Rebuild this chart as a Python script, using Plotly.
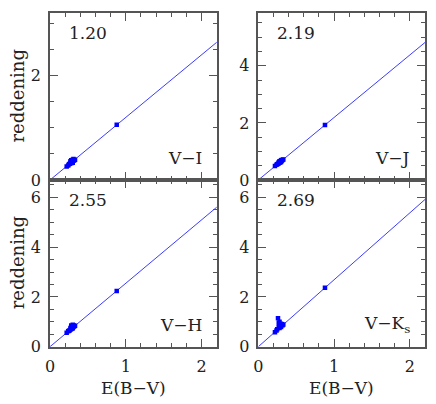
import plotly.graph_objects as go

# ---- data ----
ebv = [0.22, 0.24, 0.25, 0.26, 0.27, 0.27, 0.28, 0.28, 0.28, 0.29, 0.29,
       0.30, 0.30, 0.30, 0.31, 0.31, 0.32, 0.33, 0.88]
red_VI = [0.26, 0.28, 0.30, 0.31, 0.33, 0.36, 0.32, 0.35, 0.38, 0.34, 0.37,
          0.36, 0.39, 0.33, 0.37, 0.40, 0.38, 0.39, 1.06]
red_VJ = [0.49, 0.53, 0.55, 0.57, 0.59, 0.62, 0.60, 0.63, 0.66, 0.62, 0.65,
          0.66, 0.69, 0.63, 0.68, 0.70, 0.70, 0.72, 1.93]
red_VH = [0.56, 0.62, 0.64, 0.66, 0.69, 0.75, 0.71, 0.76, 0.85, 0.73, 0.80,
          0.77, 0.88, 0.74, 0.79, 0.86, 0.82, 0.84, 2.24]
red_VK = [0.58, 0.65, 0.70, 1.14, 0.95, 0.78, 0.75, 0.82, 1.00, 0.80, 0.85,
          0.79, 0.92, 0.83, 0.88, 0.90, 0.86, 0.89, 2.37]
slopes = [1.20, 2.19, 2.55, 2.69]
slope_labels = ["1.20", "2.19", "2.55", "2.69"]
band_labels = ["V\u2212I", "V\u2212J", "V\u2212H", "V\u2212K<sub>s</sub>"]
y_max = [3.2, 5.85, 6.7, 6.7]
y_ticks = [[0, 2], [0, 2, 4], [0, 2, 4, 6], [0, 2, 4, 6]]
x_max = 2.2
x_ticks = [0, 1, 2]
y_title = "reddening"
x_title = "E(B\u2212V)"

series = [red_VI, red_VJ, red_VH, red_VK]

W, H = 436, 404
# panel pixel boxes (x0, x1, ytop, ybottom)
boxes = [(50, 216.8, 13, 180), (258.3, 425, 13, 180),
         (50, 216.8, 180, 346.7), (258.3, 425, 180, 346.7)]

FONT = "DejaVu Serif"
AX = "#555555"
TXT = "#222222"
BLUE = "#0000ff"

fig = go.Figure()
for i in range(4):
    n = "" if i == 0 else str(i + 1)
    x0, x1, yt, yb = boxes[i]
    fig.add_trace(go.Scatter(x=[0, x_max], y=[0, slopes[i] * x_max], mode="lines",
                             line=dict(color="#3b3bff", width=1),
                             xaxis="x" + n, yaxis="y" + n, showlegend=False))
    fig.add_trace(go.Scatter(x=ebv, y=series[i], mode="markers",
                             marker=dict(symbol="square", size=4.5, color=BLUE,
                                         line=dict(width=0)),
                             xaxis="x" + n, yaxis="y" + n, showlegend=False))
    bottom = i >= 2
    fig.layout["xaxis" + n] = dict(
        domain=[x0 / W, x1 / W], range=[0, x_max], anchor="y" + n,
        tickvals=x_ticks, showticklabels=bottom, ticks="inside", ticklen=8,
        tickwidth=1.3, tickcolor=AX, showline=True, linecolor=AX, linewidth=1.5,
        mirror="ticks", showgrid=False, zeroline=False,
        minor=dict(dtick=0.2, ticks="inside", ticklen=4, tickcolor=AX, tickwidth=1.3),
        tickfont=dict(family=FONT, size=16, color=TXT), ticklabelstandoff=4,
        automargin=False)
    fig.layout["yaxis" + n] = dict(
        domain=[1 - yb / H, 1 - yt / H], range=[0, y_max[i]], anchor="x" + n,
        tickvals=y_ticks[i], ticks="inside", ticklen=8, tickwidth=1.3,
        tickcolor=AX, showline=True, linecolor=AX, linewidth=1.5, mirror="ticks",
        showgrid=False, zeroline=False,
        minor=dict(dtick=0.5, ticks="inside", ticklen=4, tickcolor=AX, tickwidth=1.3),
        tickfont=dict(family=FONT, size=16, color=TXT), ticklabelstandoff=4,
        automargin=False)
    # slope label
    fig.add_annotation(x=(x0 + 17) / W, y=1 - (yt + 20) / H, xref="paper", yref="paper",
                       text=slope_labels[i], showarrow=False, xanchor="left",
                       yanchor="middle", font=dict(family=FONT, size=17, color=TXT))
    fig.add_annotation(x=(x1 - 13) / W, y=1 - (yb - 22) / H, xref="paper", yref="paper",
                       text=band_labels[i], showarrow=False, xanchor="right",
                       yanchor="middle", font=dict(family=FONT, size=17, color=TXT))

# axis titles
for yt, yb in [(13, 180), (180, 346.7)]:
    fig.add_annotation(x=17 / W, y=1 - (yt + yb) / 2 / H, xref="paper", yref="paper",
                       text=y_title, textangle=-90, showarrow=False,
                       xanchor="center", yanchor="middle",
                       font=dict(family=FONT, size=18, color=TXT))
for x0, x1 in [(50, 216.8), (258.3, 425)]:
    fig.add_annotation(x=(x0 + x1) / 2 / W, y=1 - 388 / H, xref="paper", yref="paper",
                       text=x_title, showarrow=False, xanchor="center",
                       yanchor="middle", font=dict(family=FONT, size=17, color=TXT))

fig.update_layout(width=W, height=H, margin=dict(l=0, r=0, t=0, b=0),
                  paper_bgcolor="white", plot_bgcolor="white")
fig.write_html("out.html", config={"displayModeBar": False},
               post_script="document.body.style.margin='0';")
